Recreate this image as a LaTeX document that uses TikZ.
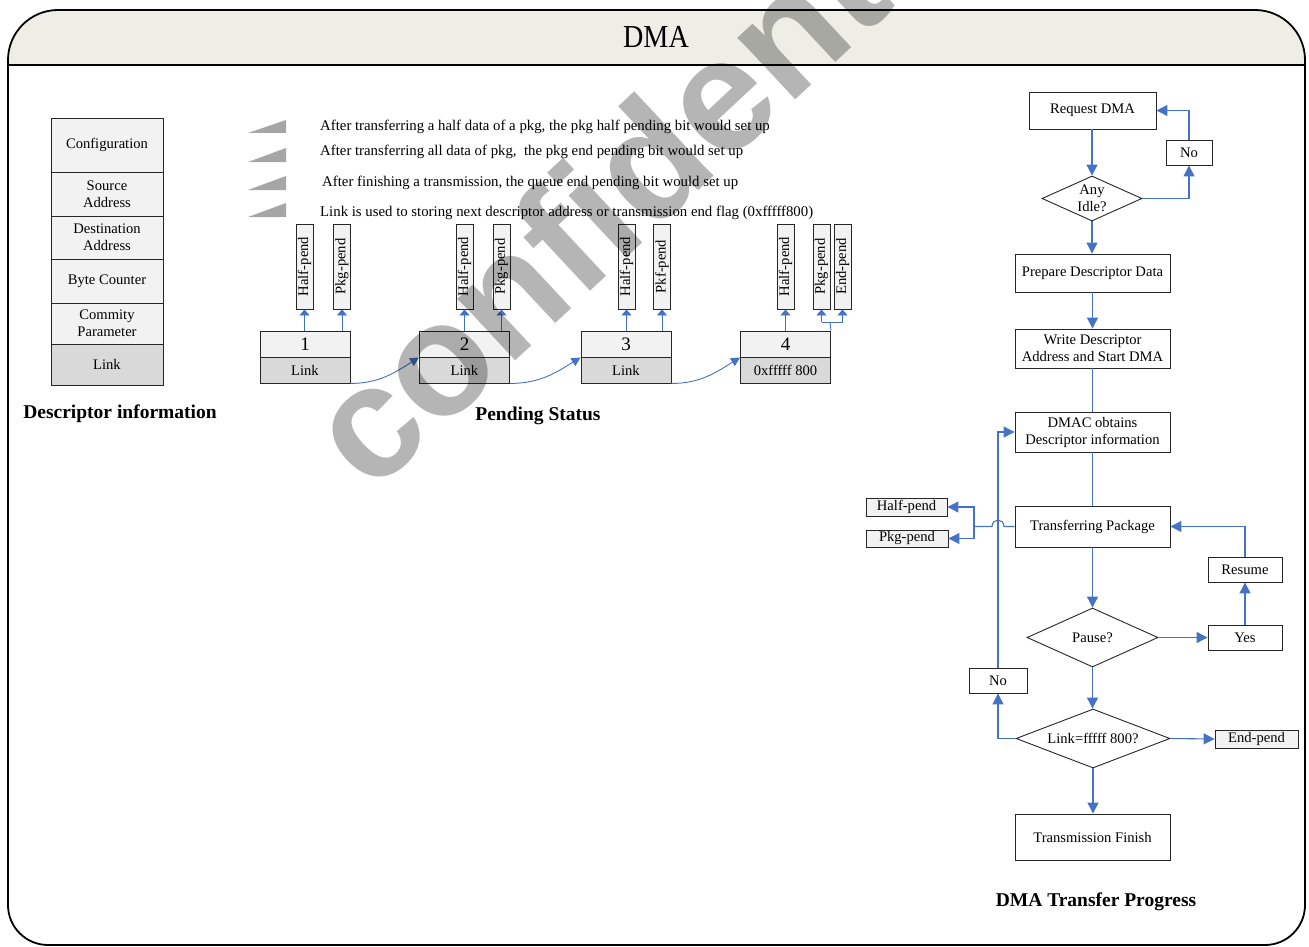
\documentclass[tikz,border=0pt]{standalone}
\usepackage{fontspec}
\setmainfont{Liberation Serif}
\newfontfamily\wmfont{Liberation Sans}
\usetikzlibrary{arrows.meta,shapes.geometric,calc}
\newcommand\fsn{\fontsize{14.6}{17}\selectfont}
\newcommand\fsl{\fontsize{14.8}{17}\selectfont}
\newcommand\fsb{\fontsize{19.5}{23}\selectfont\bfseries}
\newcommand\fsd{\fontsize{19}{22}\selectfont}
\definecolor{band}{HTML}{EEEEE6}
\definecolor{lg}{HTML}{F2F2F2}
\definecolor{dg}{HTML}{D9D9D9}
\definecolor{blu}{HTML}{4472C4}
\definecolor{tri}{HTML}{A6A6A6}
\begin{document}
\begin{tikzpicture}[x=1pt,y=-1pt,
  frame/.style={draw=black, line width=1.8pt},
  box/.style={draw=black!85, line width=0.9pt, inner sep=0pt, align=center, font=\fsn},
  dia/.style={draw=black!85, line width=0.9pt, diamond, inner sep=0pt},
  txt/.style={font=\fsn, align=center, inner sep=0pt},
  head/.style={font=\fsb, inner sep=0pt},
  flow/.style={draw=blu, line width=1.1pt},
  arr/.style={draw=blu, line width=1.1pt, -{Triangle[length=11pt,width=11pt]}},
  parr/.style={draw=blu, line width=0.9pt, -{Triangle[length=6pt,width=10pt]}},
  carr/.style={draw=blu, line width=0.9pt, -{Triangle[length=9pt,width=9pt]}},
  legend/.style={font=\fsl, anchor=base west, inner sep=0pt}
]
\useasboundingbox (0,0) rectangle (1309,947);
% frame and title band
\begin{scope}
\clip (0,0) rectangle (1309,65);
\fill[band] (8,60) arc[start angle=180,end angle=270,radius=50] -- (1255,10) arc[start angle=270,end angle=360,radius=50] -- (1305,100) -- (8,100) -- cycle;
\end{scope}
\draw[frame] (48,945) arc[start angle=90,end angle=180,radius=40] -- (8,60) arc[start angle=180,end angle=270,radius=50] -- (1255,10) arc[start angle=270,end angle=360,radius=50] -- (1305,905) arc[start angle=0,end angle=90,radius=40] -- cycle;
\draw[frame] (8,65) -- (1305,65);
\node[font=\fontsize{32}{36}\selectfont, xscale=0.88, inner sep=0pt] (title) at (656,37) {DMA};

% descriptor table
\node[box, fill=lg, minimum width=112pt, minimum height=54pt] (d1) at (107,145) {Configuration};
\node[box, fill=lg, minimum width=112pt, minimum height=44pt] (d2) at (107,194) {Source\\Address};
\node[box, fill=lg, minimum width=112pt, minimum height=43pt] (d3) at (107,237.5) {Destination\\Address};
\node[box, fill=lg, minimum width=112pt, minimum height=44pt] (d4) at (107,281) {Byte Counter};
\node[box, fill=lg, minimum width=112pt, minimum height=41pt] (d5) at (107,323.5) {Commity\\Parameter};
\node[box, fill=dg, minimum width=112pt, minimum height=41pt] (d6) at (107,364.5) {Link};
\node[head] (hdesc) at (120,414) {Descriptor information};

% legend
\fill[tri] (248,133) -- (286,133) -- (286,120) -- cycle;
\fill[tri] (248,162) -- (286,162) -- (286,148) -- cycle;
\fill[tri] (248,190) -- (286,190) -- (286,176) -- cycle;
\fill[tri] (248,217) -- (286,217) -- (286,203) -- cycle;
\node[legend] (t1) at (320,130.5) {After transferring a half data of a pkg, the pkg half pending bit would set up};
\node[legend] (t2) at (320,155.5) {After transferring all data of pkg,\ \ the pkg end pending bit would set up};
\node[legend] (t3) at (322,186.5) {After finishing a transmission, the queue end pending bit would set up};
\node[legend] (t4) at (320,216.5) {Link is used to storing next descriptor address or transmission end flag (0xfffff800)};

% pending chain
\node[box, fill=lg, minimum width=90pt, minimum height=26pt, font=\fsd] (n1) at (305,344) {1};
\node[box, fill=dg, minimum width=90pt, minimum height=26pt] (l1) at (305,370) {Link};
\node[box, fill=lg, minimum width=90pt, minimum height=26pt, font=\fsd] (n2) at (464.5,344) {2};
\node[box, fill=dg, minimum width=90pt, minimum height=26pt] (l2) at (464.5,370) {Link};
\node[box, fill=lg, minimum width=90pt, minimum height=26pt, font=\fsd] (n3) at (626,344) {3};
\node[box, fill=dg, minimum width=90pt, minimum height=26pt] (l3) at (626,370) {Link};
\node[box, fill=lg, minimum width=90pt, minimum height=26pt, font=\fsd] (n4) at (785.5,344) {4};
\node[box, fill=dg, minimum width=90pt, minimum height=26pt] (l4) at (785.5,370) {0xfffff 800};

\node[box, fill=lg, minimum width=17pt, minimum height=85pt] (h1) at (304.5,266.5) {\rotatebox{90}{Half-pend}};
\node[box, fill=lg, minimum width=17pt, minimum height=85pt] (p1) at (342,266.5) {\rotatebox{90}{Pkg-pend}};
\node[box, fill=lg, minimum width=17pt, minimum height=85pt] (h2) at (464.5,266.5) {\rotatebox{90}{Half-pend}};
\node[box, fill=lg, minimum width=17pt, minimum height=85pt] (p2) at (501.5,266.5) {\rotatebox{90}{Pkg-pend}};
\node[box, fill=lg, minimum width=17pt, minimum height=85pt] (h3) at (626.5,266.5) {\rotatebox{90}{Half-pend}};
\node[box, fill=lg, minimum width=17pt, minimum height=85pt] (p3) at (662,266.5) {\rotatebox{90}{Pkf-pend}};
\node[box, fill=lg, minimum width=17pt, minimum height=85pt] (h4) at (785.5,266.5) {\rotatebox{90}{Half-pend}};
\node[box, fill=lg, minimum width=17pt, minimum height=85pt] (p4) at (821.5,266.5) {\rotatebox{90}{Pkg-pend}};
\node[box, fill=lg, minimum width=17pt, minimum height=85pt] (e4) at (842.5,266.5) {\rotatebox{90}{End-pend}};

\draw[parr] (h1.south |- n1.north) -- (h1.south);
\draw[parr] (p1.south |- n1.north) -- (p1.south);
\draw[parr] (h2.south |- n2.north) -- (h2.south);
\draw[parr] (p2.south |- n2.north) -- (p2.south);
\draw[parr] (h3.south |- n3.north) -- (h3.south);
\draw[parr] (p3.south |- n3.north) -- (p3.south);
\draw[parr] (h4.south |- n4.north) -- (h4.south);
\coordinate (j4) at (830,322);
\draw[flow, line width=0.9pt] (n4.north east) -- (j4);
\draw[flow, line width=0.9pt] (p4.south |- j4) -- (e4.south |- j4);
\draw[parr] (p4.south |- j4) -- (p4.south);
\draw[parr] (e4.south |- j4) -- (e4.south);

\draw[carr] (l1.south east) to[out=0,in=212] (n2.south west);
\draw[carr] (l2.south east) to[out=0,in=212] (n3.south west);
\draw[carr] (l3.south east) to[out=0,in=212] (n4.south west);
\node[head] (hpend) at (538,416) {Pending Status};

% flowchart
\node[box, minimum width=127pt, minimum height=37pt] (req) at (1092.5,110.5) {Request DMA};
\node[box, minimum width=46pt, minimum height=25pt] (no1) at (1189,152.5) {No};
\node[dia, minimum width=100pt, minimum height=45pt] (idle) at (1092,198.5) {};
\node[txt] (idlet) at (idle) {Any\\Idle?};
\node[box, minimum width=155pt, minimum height=38pt] (prep) at (1092.5,273) {Prepare Descriptor Data};
\node[box, minimum width=155pt, minimum height=39pt] (write) at (1092.5,348.5) {Write Descriptor\\Address and Start DMA};
\node[box, minimum width=155pt, minimum height=40pt] (dmac) at (1092.5,432) {DMAC obtains\\Descriptor information};
\node[box, minimum width=155pt, minimum height=41pt] (trans) at (1092.5,526.5) {Transferring Package};
\node[box, fill=lg, minimum width=81pt, minimum height=18pt] (half) at (906.5,507) {Half-pend};
\node[box, fill=lg, minimum width=82pt, minimum height=17pt] (pkg) at (907,538.5) {Pkg-pend};
\node[box, minimum width=58pt, minimum height=25pt] (noL) at (998,680.5) {No};
\node[dia, minimum width=131pt, minimum height=59pt] (pause) at (1092.5,637.5) {};
\node[txt] (pauset) at (pause) {Pause?};
\node[box, minimum width=74pt, minimum height=25pt] (yes) at (1245,637.5) {Yes};
\node[box, minimum width=74pt, minimum height=25pt] (resume) at (1245,569.5) {Resume};
\node[dia, minimum width=154pt, minimum height=59pt] (link) at (1093,738.5) {};
\node[txt] (linkt) at (link) {Link=fffff 800?};
\node[box, fill=lg, minimum width=83pt, minimum height=18pt] (endp) at (1256.5,739) {End-pend};
\node[box, minimum width=155pt, minimum height=46pt] (fin) at (1092.5,837) {Transmission Finish};
\node[head] (hflow) at (1096,902) {DMA Transfer Progress};

\draw[arr] (req.south -| idle.north) -- (idle.north);
\draw[arr] (idle.east) -| (no1.south);
\draw[arr] (no1.north) |- (req.east);
\draw[arr] (idle.south) -- (idle.south |- prep.north);
\draw[arr] (prep.south) -- (write.north);
\draw[flow] (write.south) -- (dmac.north);
\draw[flow] (dmac.south) -- (trans.north);
\coordinate (jn) at (974,526.5);
\draw[flow] (trans.west) -- (1004,526.5) .. controls (1004,518) and (992,518) .. (992,526.5) -- (jn);
\draw[arr] (jn) |- (half.east);
\draw[arr] (jn) |- (pkg.east);
\draw[arr] (noL.north) |- (dmac.west);
\draw[arr] (trans.south) -- (trans.south |- pause.north);
\draw[arr] (pause.east) -- (yes.west);
\draw[arr] (yes.north) -- (resume.south);
\draw[arr] (resume.north) |- (trans.east);
\draw[arr] (pause.south) -- (pause.south |- link.north);
\draw[arr] (link.west) -| (noL.south);
\draw[arr] (link.east) -- (endp.west);
\draw[arr] (link.south) -- (link.south |- fin.north);

% watermark
\node[font=\wmfont\bfseries\fontsize{160}{160}\selectfont, text=black, opacity=0.29, rotate=43, anchor=base west, inner sep=0pt] (wm) at (371,496) {confidential};
\end{tikzpicture}
\end{document}
